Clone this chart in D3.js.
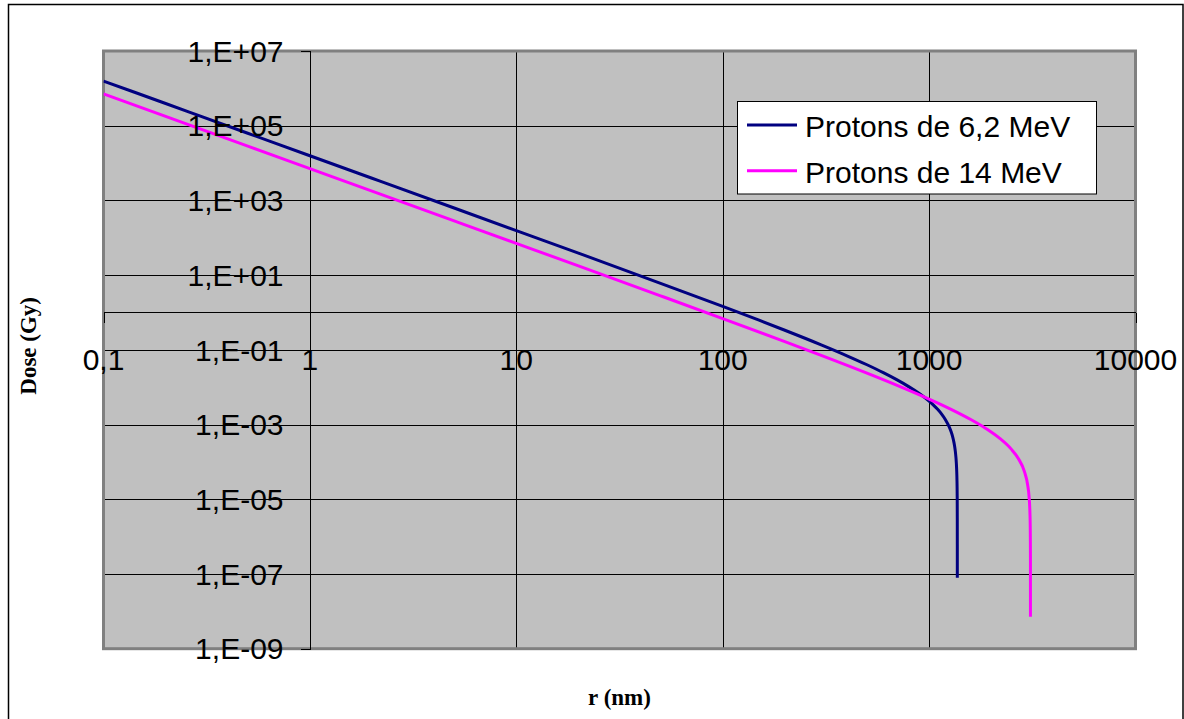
<!DOCTYPE html>
<html>
<head>
<meta charset="utf-8">
<script src="https://cdn.jsdelivr.net/npm/d3@7"></script>
<style>
  html, body { margin: 0; padding: 0; background: #fff; }
  svg { display: block; }
</style>
</head>
<body>
<svg id="chart" width="1184" height="719"></svg>
<script>
// ---- Data ----
const blueName = "Protons de 6,2 MeV";
const blueR = [0.1,0.2,0.5,1,2,5,10,20,50,100,150,200,300,400,500,600,700,800,900,1000,1050,1100,1150,1200,1250,1280,1300,1320,1330,1340,1350,1355,1360,1365,1368,1369.5,1369.9,1369.99];
const blueD = [1.57e6,3.925e5,6.28e4,1.569e4,3919,625.7,155.9,38.68,6.051,1.455,0.6214,0.3352,0.1362,0.06947,0.03988,0.02451,0.01567,0.010205,0.006649,0.00424,0.003327,0.002556,0.001906,0.001353,0.00088,0.00063,0.000475,0.000329,0.000259,0.0001915,0.0001258,9.36e-5,6.2e-5,3.08e-5,1.22e-5,3.06e-6,6.1e-7,7.9e-8];

const pinkName = "Protons de 14 MeV";
const pinkR = [0.1,0.2,0.5,1,2,5,10,20,50,100,200,300,500,700,1000,1300,1600,1900,2200,2500,2700,2900,3000,3050,3080,3090,3095,3097,3097.97];
const pinkD = [7.112e5,1.778e5,2.845e4,7110,1777,284.0,70.89,17.67,2.799,0.6882,0.1663,0.07137,0.02386,0.011235,0.004816,0.002442,0.001343,0.000762,0.000426,0.0002197,0.0001253,5.405e-5,2.5e-5,1.184e-5,4.36e-6,1.92e-6,7.2e-7,2.4e-7,7.2e-9];

const xTickValues = [0.1, 1, 10, 100, 1000, 10000];
const xTickLabels = ["0,1", "1", "10", "100", "1000", "10000"];
const yTickValues = [1e7, 1e5, 1e3, 1e1, 1e-1, 1e-3, 1e-5, 1e-7, 1e-9];
const yTickLabels = ["1,E+07", "1,E+05", "1,E+03", "1,E+01", "1,E-01", "1,E-03", "1,E-05", "1,E-07", "1,E-09"];

const xTitle = "r (nm)";
const yTitle = "Dose (Gy)";

// ---- Layout ----
const plot = { left: 103.5, right: 1135.5, top: 51, bottom: 648.7 };
const svg = d3.select("#chart");
const sansFont = "'Liberation Sans', Arial, sans-serif";
const serifFont = "'Liberation Serif', 'Times New Roman', serif";

const x = d3.scaleLog().domain([0.1, 10000]).range([plot.left, plot.right]);
const y = d3.scaleLog().domain([1e-9, 1e7]).range([plot.bottom, plot.top]);

// outer frame
svg.append("rect")
  .attr("x", 8.5).attr("y", 4.5)
  .attr("width", 1174.5).attr("height", 730)
  .attr("fill", "#fff").attr("stroke", "#000").attr("stroke-width", 1.5);

// plot background
svg.append("rect")
  .attr("x", plot.left).attr("y", plot.top)
  .attr("width", plot.right - plot.left).attr("height", plot.bottom - plot.top)
  .attr("fill", "#C0C0C0");

// grid lines
const grid = svg.append("g").attr("shape-rendering", "crispEdges");
grid.selectAll("line.h").data(yTickValues.slice(1, -1)).join("line")
  .attr("x1", plot.left).attr("x2", plot.right)
  .attr("y1", d => Math.round(y(d)) + 0.5).attr("y2", d => Math.round(y(d)) + 0.5)
  .attr("stroke", "#000").attr("stroke-width", 1);
grid.selectAll("line.v").data([10, 100, 1000]).join("line")
  .attr("y1", plot.top).attr("y2", plot.bottom)
  .attr("x1", d => Math.round(x(d)) + 0.5).attr("x2", d => Math.round(x(d)) + 0.5)
  .attr("stroke", "#000").attr("stroke-width", 1);

// plot border
svg.append("rect")
  .attr("x", plot.left).attr("y", plot.top)
  .attr("width", plot.right - plot.left).attr("height", plot.bottom - plot.top)
  .attr("fill", "none").attr("stroke", "#808080").attr("stroke-width", 3);

// axes: y axis crosses at x = 1, x axis crosses at y = 1
const axisG = svg.append("g").attr("shape-rendering", "crispEdges");
const xAxisY = Math.round(y(1)) + 0.5;
const yAxisX = Math.round(x(1)) + 0.5;
axisG.append("line").attr("x1", plot.left).attr("x2", plot.right)
  .attr("y1", xAxisY).attr("y2", xAxisY).attr("stroke", "#000");
axisG.append("line").attr("x1", yAxisX).attr("x2", yAxisX)
  .attr("y1", plot.top).attr("y2", plot.bottom).attr("stroke", "#000");
// x ticks (downward)
axisG.selectAll("line.xt").data(xTickValues).join("line")
  .attr("x1", d => Math.round(x(d)) + 0.5).attr("x2", d => Math.round(x(d)) + 0.5)
  .attr("y1", xAxisY).attr("y2", xAxisY + 10).attr("stroke", "#000");
// y ticks (leftward)
axisG.selectAll("line.yt").data(yTickValues).join("line")
  .attr("x1", yAxisX - 10).attr("x2", yAxisX)
  .attr("y1", d => Math.round(y(d)) + 0.5).attr("y2", d => Math.round(y(d)) + 0.5)
  .attr("stroke", "#000");

// curves
svg.append("clipPath").attr("id", "clip").append("rect")
  .attr("x", plot.left).attr("y", plot.top)
  .attr("width", plot.right - plot.left).attr("height", plot.bottom - plot.top);

const line = d3.line().x(d => x(d[0])).y(d => y(d[1])).curve(d3.curveMonotoneX);
const series = [
  { name: blueName, r: blueR, d: blueD, color: "#000080" },
  { name: pinkName, r: pinkR, d: pinkD, color: "#FF00FF" }
];
const curves = svg.append("g").attr("clip-path", "url(#clip)");
series.forEach(s => {
  curves.append("path")
    .datum(s.r.map((r, i) => [r, s.d[i]]))
    .attr("d", line)
    .attr("fill", "none")
    .attr("stroke", s.color)
    .attr("stroke-width", 3)
    .attr("stroke-linejoin", "round");
});

// tick labels
svg.append("g").selectAll("text").data(xTickValues).join("text")
  .attr("x", d => x(d)).attr("y", xAxisY + 57)
  .attr("text-anchor", "middle")
  .attr("font-family", sansFont).attr("font-size", 30).attr("fill", "#000")
  .text((d, i) => xTickLabels[i]);
svg.append("g").selectAll("text").data(yTickValues).join("text")
  .attr("x", yAxisX - 27).attr("y", d => y(d) + 10.7)
  .attr("text-anchor", "end")
  .attr("font-family", sansFont).attr("font-size", 30).attr("fill", "#000")
  .text((d, i) => yTickLabels[i]);

// axis titles
svg.append("text")
  .attr("x", (plot.left + plot.right) / 2).attr("y", 705)
  .attr("text-anchor", "middle")
  .attr("font-family", serifFont).attr("font-weight", "bold").attr("font-size", 23)
  .text(xTitle);
svg.append("text")
  .attr("transform", `translate(36,${(plot.top + plot.bottom) / 2 - 4}) rotate(-90)`)
  .attr("text-anchor", "middle")
  .attr("font-family", serifFont).attr("font-weight", "bold").attr("font-size", 23)
  .text(yTitle);

// legend
const legend = svg.append("g");
legend.append("rect")
  .attr("x", 737.5).attr("y", 101.5).attr("width", 359).attr("height", 92.5)
  .attr("fill", "#fff").attr("stroke", "#000").attr("stroke-width", 1);
series.forEach((s, i) => {
  const ly = 125 + i * 45.7;
  legend.append("line")
    .attr("x1", 747).attr("x2", 797).attr("y1", ly).attr("y2", ly)
    .attr("stroke", s.color).attr("stroke-width", 3);
  legend.append("text")
    .attr("x", 805).attr("y", ly + 12)
    .attr("font-family", sansFont).attr("font-size", 30).attr("fill", "#000")
    .text(s.name);
});
</script>
</body>
</html>
